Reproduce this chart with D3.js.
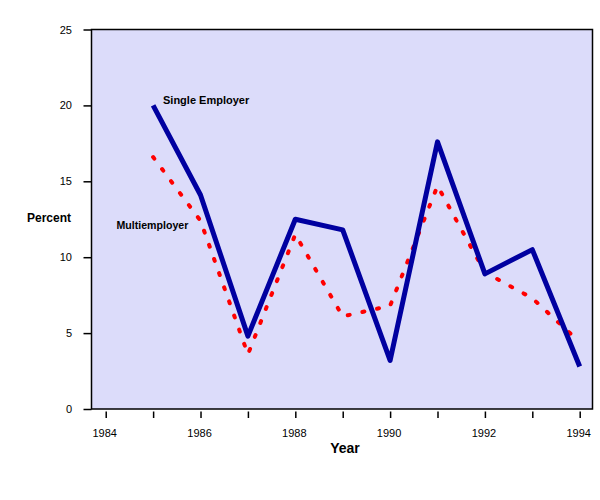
<!DOCTYPE html>
<html>
<head>
<meta charset="utf-8">
<script src="https://cdn.jsdelivr.net/npm/d3@7"></script>
<style>
  html, body { margin: 0; padding: 0; background: #ffffff; }
  svg { display: block; font-family: Arial, "Liberation Sans", sans-serif; }
</style>
</head>
<body>
<svg id="chart" width="600" height="500"></svg>
<script>
const years = [1985, 1986, 1987, 1988, 1989, 1990, 1991, 1992, 1993, 1994];
const singleEmployer = [20.0, 14.1, 4.8, 12.5, 11.8, 3.2, 17.6, 8.9, 10.5, 2.8];
const multiemployer = [16.6, 12.4, 3.6, 11.5, 6.1, 6.8, 14.7, 9.0, 7.3, 4.4];
const yTicks = [0, 5, 10, 15, 20, 25];
const xTicks = [1984, 1985, 1986, 1987, 1988, 1989, 1990, 1991, 1992, 1993, 1994];
const xLabels = ["1984", "", "1986", "", "1988", "", "1990", "", "1992", "", "1994"];

const svg = d3.select("#chart");
const plotLeft = 91.5, plotRight = 592.5, plotTop = 29.5, plotBottom = 409;

const x = d3.scaleLinear().domain([1983.7, 1994.27]).range([plotLeft, plotRight]);
const y = d3.scaleLinear().domain([0, 25]).range([plotBottom, plotTop]);

// plot background
svg.append("rect")
  .attr("x", plotLeft).attr("y", plotTop)
  .attr("width", plotRight - plotLeft).attr("height", plotBottom - plotTop)
  .attr("fill", "#dcdcfa")
  .attr("stroke", "#000").attr("stroke-width", 1.5);

// y axis
const yAxis = d3.axisLeft(y).tickValues(yTicks).tickSize(8).tickPadding(11.5).tickFormat(d3.format("d"));
const gy = svg.append("g").attr("transform", `translate(${plotLeft},0)`).call(yAxis);
gy.select(".domain").remove();
gy.selectAll("line").attr("stroke", "#000").attr("stroke-width", 1.5);
gy.selectAll("text").attr("font-size", 11).attr("fill", "#000")
  .attr("font-family", 'Arial, "Liberation Sans", sans-serif');

// x axis
const xAxis = d3.axisBottom(x).tickValues(xTicks).tickSize(6.5).tickPadding(11.5)
  .tickFormat((d, i) => xLabels[i]);
const gx = svg.append("g").attr("transform", `translate(0,${plotBottom + 2.5})`).call(xAxis);
gx.select(".domain").remove();
gx.selectAll("line").attr("stroke", "#000").attr("stroke-width", 1.5);
gx.selectAll("text").attr("font-size", 11).attr("fill", "#000").attr("dx", -1.5)
  .attr("font-family", 'Arial, "Liberation Sans", sans-serif');

// lines
const line = d3.line().x((d, i) => x(years[i])).y(d => y(d));

svg.append("path")
  .datum(multiemployer)
  .attr("d", line)
  .attr("fill", "none")
  .attr("stroke", "#ff0000")
  .attr("stroke-width", 4)
  .attr("stroke-linecap", "round")
  .attr("stroke-linejoin", "round")
  .attr("stroke-dasharray", "2,13");

svg.append("path")
  .datum(singleEmployer)
  .attr("d", line)
  .attr("fill", "none")
  .attr("stroke", "#0000a0")
  .attr("stroke-width", 5)
  .attr("stroke-linejoin", "round");

// labels
svg.append("text").attr("x", 163).attr("y", 103.5)
  .attr("font-size", 11).attr("font-weight", "bold").attr("fill", "#000")
  .text("Single Employer");
svg.append("text").attr("x", 116.5).attr("y", 228.5)
  .attr("font-size", 10.6).attr("font-weight", "bold").attr("fill", "#000")
  .text("Multiemployer");
svg.append("text").attr("x", 27).attr("y", 221.7)
  .attr("font-size", 12).attr("font-weight", "bold").attr("fill", "#000")
  .text("Percent");
svg.append("text").attr("x", 345).attr("y", 453.3).attr("text-anchor", "middle")
  .attr("font-size", 14).attr("font-weight", "bold").attr("fill", "#000")
  .text("Year");
</script>
</body>
</html>
